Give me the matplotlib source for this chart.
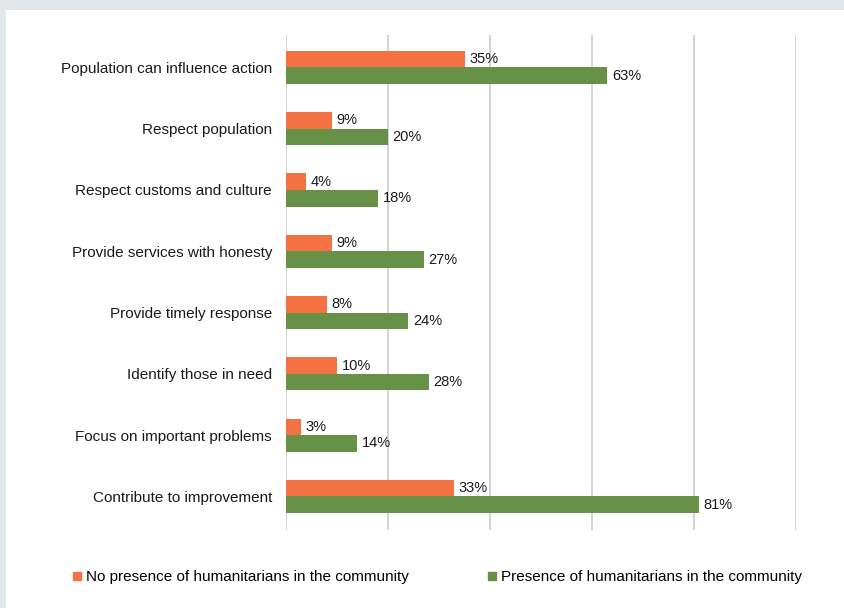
import matplotlib
matplotlib.use("Agg")
import matplotlib.pyplot as plt
from matplotlib.patches import Rectangle
from matplotlib.lines import Line2D
import numpy as np

categories = ["Population can influence action", "Respect population", "Respect customs and culture",
              "Provide services with honesty", "Provide timely response", "Identify those in need",
              "Focus on important problems", "Contribute to improvement"]
no_presence = [35, 9, 4, 9, 8, 10, 3, 33]
presence = [63, 20, 18, 27, 24, 28, 14, 81]
series_names = ["No presence of humanitarians in the community", "Presence of humanitarians in the community"]

ORANGE = "#F37143"; GREEN = "#679146"; GRID = "#D3D3D3"; BORDER = "#E1E7EA"
plt.rcParams["font.family"] = ["Liberation Sans Narrow", "Liberation Sans", "DejaVu Sans"]

W, H = 844, 608
fig = plt.figure(figsize=(W/100, H/100), dpi=100, facecolor=BORDER)
fig.patches.append(Rectangle((6/W, 0), 1, 1 - 10/H, transform=fig.transFigure, facecolor="white",
                             edgecolor="none", zorder=-5))

ax = fig.add_axes([286/W, 1 - 530/H, 510/W, 495/H])
ax.set_facecolor("none")
y = np.arange(len(categories)); bh = 0.27
b1 = ax.barh(y - bh/2, no_presence, bh, color=ORANGE, zorder=3)
b2 = ax.barh(y + bh/2, presence, bh, color=GREEN, zorder=3)
for bars, vals in ((b1, no_presence), (b2, presence)):
    for b, v in zip(bars, vals):
        ax.text(v + 0.9, b.get_y() + b.get_height()/2, f"{v}%", va="center", ha="left", fontsize=10.5, color="#1a1a1a")

ax.set_xlim(0, 100); ax.set_ylim(7.55, -0.53)
ax.set_xticks(range(0, 101, 20)); ax.set_xticklabels([])
ax.tick_params(axis="x", length=0)
ax.grid(axis="x", color=GRID, lw=1.4, zorder=0)
ax.set_yticks(y); ax.set_yticklabels(categories, fontsize=11, color="#1a1a1a")
ax.tick_params(axis="y", length=0, pad=10)
for s in ax.spines.values(): s.set_visible(False)

for x0, name, col in ((72/W, series_names[0], ORANGE), (487/W, series_names[1], GREEN)):
    h = Line2D([], [], marker="s", ls="none", color=col, markersize=6)
    fig.legend(handles=[h], labels=[name], loc="center left", bbox_to_anchor=(x0, 1 - 577/H),
               frameon=False, fontsize=11, handlelength=0.6, handletextpad=0.3, borderaxespad=0, borderpad=0)

fig.savefig("out.png", dpi=100, facecolor=fig.get_facecolor())
